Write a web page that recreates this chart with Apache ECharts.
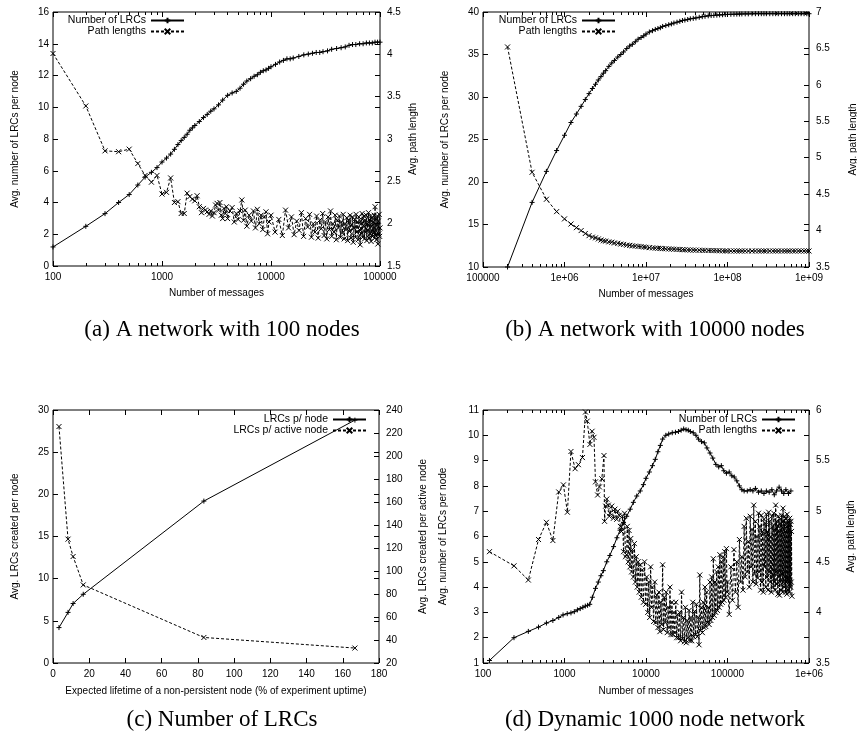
<!DOCTYPE html>
<html><head><meta charset="utf-8">
<script src="https://cdn.jsdelivr.net/npm/echarts@6/dist/echarts.min.js"></script>
<style>html,body{margin:0;padding:0;background:#fff}#c{width:857px;height:744px}</style>
</head><body><div id="c"></div>
<script>
// ---------- data ----------
const aXTicks = ['100','1000','10000','100000'];
const bXTicks = ['100000','1e+06','1e+07','1e+08','1e+09'];
const dXTicks = ['100','1000','10000','100000','1e+06'];

const aLrc = [[100,1.2],[200,2.5],[300,3.3],[400,4.0],[500,4.5],[600,5.1],[700,5.6],[800,5.9],[900,6.2],[1000,6.55],[1100,6.8],[1200,7.05],[1300,7.35],[1400,7.65],[1500,7.9],[1600,8.1],[1700,8.3],[1800,8.55],[1900,8.7],[2000,8.85],[2200,9.1],[2400,9.35],[2600,9.55],[2800,9.75],[3000,9.9],[3300,10.15],[3600,10.45],[4000,10.75],[4400,10.9],[4800,11.0],[5200,11.2],[5600,11.45],[6000,11.65],[6500,11.8],[7000,11.95],[7500,12.05],[8000,12.2],[8500,12.3],[9000,12.35],[9500,12.45],[10000,12.55],[11000,12.7],[12000,12.85],[13000,12.95],[14000,13.05],[15000,13.05],[16000,13.1],[18000,13.2],[20000,13.3],[22000,13.35],[24000,13.4],[26000,13.45],[28000,13.45],[30000,13.5],[33000,13.55],[36000,13.65],[40000,13.7],[44000,13.75],[48000,13.8],[52000,13.9],[56000,13.95],[60000,13.95],[65000,14.0],[70000,14.0],[75000,14.05],[80000,14.05],[85000,14.05],[90000,14.1],[95000,14.1],[100000,14.1]];

const aPath = [[100,4.01],[200,3.39],[300,2.86],[400,2.85],[500,2.88],[600,2.71],[700,2.57],[800,2.49],[900,2.57],[1000,2.35],[1100,2.37],[1200,2.54],[1300,2.25],[1400,2.26],[1500,2.12],[1600,2.12],[1700,2.36],[1800,2.32],[1900,2.29],[2000,2.27],[2100,2.33],[2200,2.2],[2300,2.13],[2400,2.18],[2500,2.16],[2600,2.14],[2700,2.11],[2800,2.15],[2900,2.09],[3000,2.13],[3100,2.22],[3200,2.24],[3300,2.16],[3400,2.25],[3500,2.1],[3600,2.06],[3700,2.18],[3800,2.12],[3900,2.2],[4000,2.06],[4200,2.15],[4400,2.19],[4600,2.02],[4800,2.12],[5000,2.05],[5200,2.15],[5400,2.28],[5600,2.04],[5800,2.16],[6000,1.97],[6300,2.1],[6600,2.03],[6900,2.15],[7200,1.95],[7500,2.17],[7800,2.0],[8100,2.1],[8400,1.93],[8700,2.08],[9000,2.14],[9300,1.88],[9600,2.02],
[10000,2.1],[10900,1.9],[11800,2.05],[12700,1.86],[13600,2.16],[14500,1.95],[15400,2.08],[16300,1.87],[17200,2.03],[18100,1.92],[19000,2.13],[19900,1.85],[20800,2.06],[21700,1.96],[22600,2.11],[23500,1.84],[24400,2.0],[25300,1.9],[26200,2.09],[27100,1.83],[28000,2.04],[28900,1.94],[29800,2.12],[30700,1.86],[31600,2.02],[32500,1.82],[33400,2.08],[34300,1.93],[35200,2.15],[36100,1.85],[37000,2.0],[37900,1.9],[38800,2.1],[39700,1.81],[40600,2.04],[41500,1.95],[42400,2.09],[43300,1.84],[44200,2.02],[45100,1.89],[46000,2.11],[46900,1.82],[47800,2.0],[48700,1.93],[49600,2.07],[50500,1.8],[51400,2.04],[52300,1.91],[53200,2.1],[54100,1.83],[55000,1.99],[55900,2.08],[56800,1.78],[57700,1.95],[58600,2.05],[59500,1.84],[60400,2.11],[61300,1.9],[62200,2.02],[63100,1.81],[64000,2.08],[64900,1.93],[65800,1.75],[66700,2.03],[67600,1.88],[68500,2.12],[69400,1.84],[70300,1.98],[71200,2.09],[72100,1.82],[73000,2.04],[73900,1.9],[74800,2.1],[75700,1.8],[76600,2.0],[77500,1.92],[78400,2.13],[79300,1.83],[80200,2.05],[81100,1.88],[82000,2.09],[82900,1.79],[83800,1.97],[84700,2.07],[85600,1.85],[86500,2.02],[87400,1.9],[88300,2.1],[89200,1.83],[90100,2.2],[91000,1.86],[92000,2.06],[92900,1.81],[93800,1.98],[94700,2.09],[95600,1.76],[96500,2.03],[97400,1.88],[98300,2.11],[99200,1.85],[100000,1.95]];

const bMessages = [2e5,4e5,6e5,8e5,1e6,1.2e6,1.4e6,1.6e6,1.8e6,
  2e6,2.2e6,2.4e6,2.6e6,2.8e6,3e6,3.2e6,3.5e6,3.8e6,4.1e6,
  4.5e6,4.9e6,5.3e6,5.8e6,6.3e6,6.8e6,7.4e6,8e6,8.7e6,9.4e6,
  1e7,1.1e7,1.2e7,1.3e7,1.4e7,1.5e7,1.6e7,1.75e7,1.9e7,2.05e7,
  2.2e7,2.4e7,2.6e7,2.8e7,3e7,3.25e7,3.5e7,3.8e7,4.1e7,4.5e7,
  4.9e7,5.3e7,5.8e7,6.3e7,6.8e7,7.4e7,8e7,8.7e7,9.4e7,1e8,
  1.1e8,1.2e8,1.3e8,1.4e8,1.5e8,1.65e8,1.8e8,2e8,2.2e8,2.4e8,
  2.6e8,2.8e8,3e8,3.3e8,3.6e8,3.9e8,4.2e8,4.6e8,5e8,5.4e8,
  5.8e8,6.3e8,6.8e8,7.4e8,8e8,8.7e8,9.4e8,1e9];
const bLrcY = [10.0,17.6,21.25,23.7,25.5,27.0,28.0,28.9,29.7,
  30.4,31.0,31.5,32.0,32.4,32.8,33.1,33.6,34.0,34.3,
  34.7,35.0,35.3,35.7,36.0,36.2,36.5,36.8,37.0,37.2,
  37.4,37.65,37.8,37.95,38.05,38.15,38.3,38.4,38.5,38.6,
  38.7,38.8,38.9,39.0,39.05,39.12,39.2,39.25,39.3,39.38,
  39.45,39.5,39.55,39.58,39.6,39.63,39.66,39.68,39.7,39.72,
  39.73,39.74,39.75,39.76,39.77,39.78,39.78,39.79,39.8,39.8,
  39.8,39.8,39.8,39.8,39.8,39.8,39.8,39.8,39.8,39.8,
  39.8,39.8,39.8,39.8,39.8,39.8,39.8,39.8];
const bPathY = [6.52,4.8,4.43,4.26,4.16,4.09,4.04,4.0,3.96,
  3.93,3.91,3.9,3.885,3.87,3.86,3.855,3.845,3.84,3.83,
  3.825,3.815,3.81,3.8,3.797,3.79,3.787,3.783,3.78,3.775,
  3.77,3.766,3.762,3.759,3.757,3.755,3.752,3.75,3.748,3.746,
  3.744,3.742,3.74,3.738,3.736,3.735,3.733,3.732,3.731,3.73,
  3.729,3.728,3.727,3.726,3.725,3.724,3.723,3.722,3.721,3.72,
  3.72,3.72,3.72,3.72,3.72,3.72,3.72,3.72,3.72,3.72,
  3.72,3.72,3.72,3.72,3.72,3.72,3.72,3.72,3.72,3.72,
  3.72,3.72,3.72,3.72,3.72,3.72,3.72,3.72];

const cLifetime = [3.3, 8.3, 11.1, 16.7, 83.3, 166.7];
const cLrcNode = [4.2, 6.0, 7.05, 8.15, 19.2, 28.8];
const cLrcActive = [225.6, 127.7, 112.6, 87.9, 42.2, 33.0];

const dLrc = [[120,1.1],[240,2.0],[360,2.25],[480,2.42],[600,2.58],[720,2.68],[850,2.8],[960,2.9],[1080,2.95],[1200,2.98],[1320,3.03],[1440,3.1],[1560,3.15],[1680,3.2],[1800,3.25],[1920,3.28],[2040,3.32],[2200,3.6],[2400,3.95],[2600,4.2],[2800,4.45],[3000,4.65],[3300,5.0],[3600,5.25],[4000,5.6],[4400,5.95],[4800,6.25],[5300,6.55],[5800,6.8],[6400,7.08],[7000,7.35],[7700,7.6],[8500,7.8],[9300,8.05],[10000,8.3],[11000,8.55],[12000,8.8],[13000,9.05],[14000,9.35],[15000,9.6],[16000,9.85],[17500,10.0],[19000,10.05],[21000,10.1],[23000,10.12],[25000,10.15],[27000,10.2],[29000,10.25],[31000,10.22],[33000,10.2],[35000,10.15],[38000,10.1],[41000,10.0],[44000,9.85],[48000,9.75],[52000,9.7],[56000,9.5],[61000,9.3],[66000,9.1],[72000,8.85],[78000,8.75],[84000,8.8],[90000,8.6],[97000,8.5],[105000,8.55],[113000,8.4],[121000,8.35],[130000,8.2],[140000,8.0],[150000,7.85],[160000,7.8],[175000,7.8],[190000,7.85],[205000,7.8],[220000,7.9],[240000,7.75],[260000,7.8],[280000,7.7],[300000,7.8],[325000,7.75],[350000,7.85],[375000,7.65],[400000,7.8],[430000,7.95],[460000,7.8],[490000,7.7],[520000,7.85],[560000,7.7],[600000,7.8]];

const dPath = [[120,4.60],[240,4.46],[360,4.32],[480,4.72],[600,4.89],[720,4.71],[850,5.19],[970,5.26],[1085,4.99],[1200,5.59],[1350,5.42],[1480,5.46],[1660,5.53],[1810,5.98],[1900,5.89],[2050,5.66],[2180,5.79],[2300,5.73],[2400,5.29],[2550,5.16],[2680,5.24],[2870,5.32],[3050,5.55],[3100,4.9],[3200,5.05],[3300,5.12],[3450,5.06],[3550,4.95],[3620,4.98],[3800,5.05],[3980,4.93],[4150,5.02],[4370,4.92],[4500,5.0],[4700,4.96],[4850,4.85],
[5000,4.80],[5150,4.95],[5300,4.6],[5450,4.98],[5600,4.55],[5770,4.57],[5900,4.85],[6050,4.5],[6200,4.81],[6350,4.45],[6500,4.73],[6650,4.40],[6800,4.62],[7000,4.35],[7200,4.68],[7400,4.3],[7600,4.55],[7800,4.25],[8000,4.5],[8250,4.2],[8500,4.47],[8750,4.15],[9000,4.42],[9300,4.1],[9600,4.5],[9900,4.08],[10200,4.35],[10500,4.0],[10800,4.3],[11100,3.95],[11400,4.45],[11700,4.05],[12000,4.25],[12400,3.91],[12800,4.3],[13200,3.9],[13600,4.17],[14000,3.85],[14400,4.2],[14800,3.81],[15200,4.1],[15600,3.88],[16000,4.47],[16400,3.83],[16800,4.15],[17200,3.9],[17700,4.2],[18200,3.8],[18700,4.05],[19200,3.85],[19700,4.25],[20200,3.78],[20800,4.1],[21400,3.78],[22000,4.0],[22600,3.8],[23200,4.1],[23800,3.75],[24500,3.98],[25200,3.75],[25900,4.0],[26600,3.72],[27300,4.2],[28000,3.74],[28800,3.95],[29600,3.71],[30400,4.05],[31200,3.7],[32000,3.92],[32900,3.75],[33800,4.02],[34700,3.72],[35600,3.95],[36500,3.72],[37500,4.1],[38500,3.76],[39500,4.01],[40500,3.78],[41600,4.08],[42700,3.76],[43800,3.95],[44700,3.68],[45700,4.37],[46800,3.82],[48000,4.05],[49200,3.8],[50400,4.1],[51600,3.85],[52900,4.25],[54200,3.86],[55500,4.2],[56800,3.9],[58200,4.05],[59600,3.88],[61000,4.3],[62500,3.92],[64000,4.35],[65500,3.95],[67000,4.53],[68600,3.97],[70200,4.3],[71800,4.0],[73500,4.4],[75200,4.02],[77000,4.45],[78800,4.05],[80600,4.57],[82500,4.08],[84400,4.5],[86400,4.1],[88400,4.55],[90500,4.12],[92600,4.6],[94800,4.15],[97000,4.63],[99000,4.2],
[100000,4.3],[105000,3.98],[110000,4.45],[115000,4.12],[120000,4.62],[125000,4.2],[130000,4.5],[135000,4.05],[140000,4.72],[145000,4.3],[150000,4.55],[155000,4.22],[160000,4.85],[165000,4.35],[170000,4.93],[175000,4.4],[180000,4.7],[185000,4.25],[190000,4.95],[195000,4.45],[200000,4.82],[205000,4.3],[210000,5.06],[215000,4.38],[220000,4.9],[225000,4.28],[230000,4.75],[235000,4.34],[240000,4.98],[245000,4.4],[250000,4.85],[255000,4.22],[260000,4.96],[265000,4.3],[270000,4.8],[275000,4.2],[280000,4.92],[285000,4.45],[290000,4.88],[295000,4.25],[300000,4.97],[305000,4.35],[310000,4.8],[315000,4.22],[320000,4.99],[325000,4.4],[330000,4.9],[335000,4.3],[340000,4.75],[345000,4.2],[350000,4.95],[355000,4.35],[360000,4.85],[365000,4.25],[370000,4.98],[375000,4.3],[380000,4.82],[385000,4.22],[390000,5.06],[395000,4.4],[400000,4.9],[405000,4.28],[410000,4.86],[415000,4.18],[420000,4.95],[425000,4.35],[430000,4.8],[435000,4.17],[440000,4.92],[445000,4.3],[450000,4.88],[455000,4.22],[460000,4.96],[465000,4.38],[470000,4.84],[475000,4.2],[480000,5.03],[485000,4.3],[490000,4.9],[495000,4.25],[500000,4.95],[505000,4.35],[510000,4.8],[515000,4.2],[520000,4.93],[525000,4.3],[530000,4.85],[535000,4.18],[540000,4.97],[545000,4.32],[550000,4.88],[555000,4.22],[560000,4.9],[565000,4.3],[570000,4.83],[575000,4.2],[580000,4.93],[585000,4.28],[590000,4.87],[595000,4.25],[600000,4.9],[605000,4.3],[610000,4.8],[617000,4.16]];

// ---------- styling / layout ----------
const FONT = '"Liberation Sans", Arial, Helvetica, sans-serif';
const SERIF = '"Liberation Serif", "Times New Roman", serif';
const TXT = '#000';
const PLUS = 'path://M5,0L5,10M0,5L10,5';
const CROSS = 'path://M0,0L10,10M10,0L0,10';

const grids = [
  {left:53, top:12, width:327, height:254},
  {left:483, top:12, width:326, height:255},
  {left:53, top:410, width:326, height:253},
  {left:483, top:410, width:326, height:253}
];

// minor tick positions of a log axis (2..9 times each decade)
function logMinor(e0, e1){
  const out = [];
  for (let e = e0; e < e1; e++) for (let k = 2; k <= 9; k++) out.push(k * Math.pow(10, e));
  return out;
}
function logFmt(ticks, minExp){
  return function(v){ const i = Math.round(Math.log10(v)) - minExp; return ticks[i] !== undefined ? ticks[i] : ''; };
}
const tick = {show:true, inside:true, length:5, lineStyle:{color:'#000', width:1}};
const nameStyle = {fontFamily:FONT, fontSize:10, color:TXT};

function xAxes(g, type, min, max, name, nameGap, fmt, interval, minorVals){
  const base = {gridIndex:g, type:type, min:min, max:max, axisLine:{show:false, onZero:false},
    splitLine:{show:false}, axisTick:tick, minorTick:{show:false}};
  if (type === 'log') { base.logBase = 10; } else { base.interval = interval; }
  const bottom = Object.assign({}, base, {position:'bottom', name:name, nameLocation:'middle', nameGap:nameGap,
    nameTextStyle:nameStyle, axisLabel:{show:true, margin:6, fontFamily:FONT, fontSize:10, color:TXT, formatter:fmt}});
  const top = Object.assign({}, base, {position:'top', axisLabel:{show:false}});
  const mtick = minorVals ? {show:true, inside:true, length:3, customValues:minorVals, lineStyle:{color:'#000', width:1}} : {show:false};
  const mb = Object.assign({}, base, {position:'bottom', show: !!minorVals, axisTick:mtick, axisLabel:{show:false}});
  const mt = Object.assign({}, base, {position:'top', show: !!minorVals, axisTick:mtick, axisLabel:{show:false}});
  return [bottom, top, mb, mt];
}
function yAxes(g, L, R){
  const common = {gridIndex:g, type:'value', axisLine:{show:false, onZero:false}, splitLine:{show:false}, axisTick:tick};
  const left = Object.assign({}, common, {position:'left', min:L.min, max:L.max, interval:L.interval,
    name:L.name, nameLocation:'middle', nameRotate:90, nameGap:L.gap, nameTextStyle:nameStyle,
    axisLabel:{margin:4, fontFamily:FONT, fontSize:10, color:TXT}});
  const mirror = Object.assign({}, common, {position:'right', min:L.min, max:L.max, interval:L.interval, axisLabel:{show:false}});
  const right = Object.assign({}, common, {position:'right', min:R.min, max:R.max, interval:R.interval,
    name:R.name, nameLocation:'middle', nameRotate:90, nameGap:R.gap, nameTextStyle:nameStyle,
    axisLabel:{margin:7, fontFamily:FONT, fontSize:10, color:TXT}});
  return [left, mirror, right];
}

const xAxis = [].concat(
  xAxes(0, 'log', 100, 100000, 'Number of messages', 22, logFmt(aXTicks, 2), null, logMinor(2, 5)),
  xAxes(1, 'log', 100000, 1e9, 'Number of messages', 22, logFmt(bXTicks, 5), null, logMinor(5, 9)),
  xAxes(2, 'value', 0, 180, 'Expected lifetime of a non-persistent node (% of experiment uptime)', 23, null, 20, null),
  xAxes(3, 'log', 100, 1e6, 'Number of messages', 23, logFmt(dXTicks, 2), null, logMinor(2, 6))
);
const yAxis = [].concat(
  yAxes(0, {min:0, max:16, interval:2, name:'Avg. number of LRCs per node', gap:33},
           {min:1.5, max:4.5, interval:0.5, name:'Avg. path length', gap:28}),
  yAxes(1, {min:10, max:40, interval:5, name:'Avg. number of LRCs per node', gap:33},
           {min:3.5, max:7, interval:0.5, name:'Avg. path length', gap:39}),
  yAxes(2, {min:0, max:30, interval:5, name:'Avg. LRCs created per node', gap:33},
           {min:20, max:240, interval:20, name:'Avg. LRCs created per active node', gap:39}),
  yAxes(3, {min:1, max:11, interval:1, name:'Avg. number of LRCs per node', gap:35},
           {min:3.5, max:6, interval:0.5, name:'Avg. path length', gap:37})
);

function ser(name, g, yi, data, solid){
  return {type:'line', name:name, xAxisIndex:4*g, yAxisIndex:3*g+yi, data:data,
    symbol: solid ? PLUS : CROSS, symbolSize:5, showAllSymbol:true,
    lineStyle:{color:'#000', width:1, type: solid ? 'solid' : [3,2]},
    itemStyle:{color:'#000', borderColor:'#000', borderWidth:1},
    emphasis:{disabled:true}, animation:false, silent:true, clip:true};
}
function zip(xs, ys){ return xs.map(function(x, i){ return [x, ys[i]]; }); }

const series = [
  ser('Number of LRCs', 0, 0, aLrc, true),
  ser('Path lengths', 0, 2, aPath, false),
  ser('Number of LRCs', 1, 0, zip(bMessages, bLrcY), true),
  ser('Path lengths', 1, 2, zip(bMessages, bPathY), false),
  ser('LRCs p/ node', 2, 0, zip(cLifetime, cLrcNode), true),
  ser('LRCs p/ active node', 2, 2, zip(cLifetime, cLrcActive), false),
  ser('Number of LRCs', 3, 0, dLrc, true),
  ser('Path lengths', 3, 2, dPath, false)
];

function legend(names, right, top){
  return {data:names, orient:'vertical', align:'right', right:right, top:top, padding:0,
    itemWidth:33, itemHeight:7, itemGap:0, selectedMode:false,
    textStyle:{fontFamily:FONT, fontSize:10.5, color:TXT, lineHeight:11}};
}

function caption(text, x, y){
  return {type:'text', x:x, y:y, silent:true,
    style:{text:text, font:'23px ' + SERIF, fill:'#000', align:'center', verticalAlign:'middle'}};
}

const option = {
  animation:false,
  backgroundColor:'#fff',
  textStyle:{fontFamily:FONT},
  grid: grids.map(function(g){ return Object.assign({show:true, borderColor:'#000', borderWidth:1, containLabel:false, outerBoundsMode:'none'}, g); }),
  xAxis:xAxis,
  yAxis:yAxis,
  legend:[
    legend(['Number of LRCs','Path lengths'], 857-185, 15),
    legend(['Number of LRCs','Path lengths'], 857-616, 15),
    legend(['LRCs p/ node','LRCs p/ active node'], 857-367, 414),
    legend(['Number of LRCs','Path lengths'], 857-796, 414)
  ],
  series:series,
  graphic:[
    caption('(a) A network with 100 nodes', 222, 330),
    caption('(b) A network with 10000 nodes', 655, 330),
    caption('(c) Number of LRCs', 222, 720),
    caption('(d) Dynamic 1000 node network', 655, 720)
  ]
};
const chart = echarts.init(document.getElementById('c'));
chart.setOption(option);
</script>
</body></html>
